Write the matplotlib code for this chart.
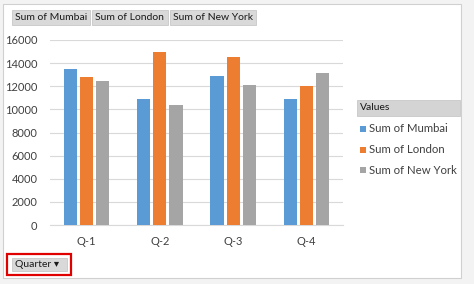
import matplotlib.pyplot as plt
import numpy as np
from matplotlib.patches import Rectangle

quarters = ["Q-1", "Q-2", "Q-3", "Q-4"]
series = ["Sum of Mumbai", "Sum of London", "Sum of New York"]
mumbai = [13500, 10900, 12900, 10900]
london = [12800, 15000, 14500, 12000]
new_york = [12450, 10400, 12100, 13150]
colors = ["#5B9BD5", "#ED7D31", "#A5A5A5"]

plt.rcParams['font.family'] = ['Lato', 'DejaVu Sans']
txt = "#404040"

W, H = 474, 284
fig = plt.figure(figsize=(W / 100, H / 100), dpi=100)
fig.patch.set_facecolor("#f3f3f3")

# chart area (behind the axes)
fig.add_artist(Rectangle((3 / W, 6 / H), 458 / W, 274 / H, transform=fig.transFigure,
                         facecolor="white", edgecolor="#d0d0d0", lw=0.8, zorder=-10))

ax = fig.add_axes([50 / W, 1 - 225 / H, 293 / W, 185 / H])
ax.set_zorder(5)
ax.patch.set_alpha(0)
x = np.arange(len(quarters))
bw = 0.178
step = 0.22
for i, (vals, c) in enumerate(zip([mumbai, london, new_york], colors)):
    ax.bar(x + (i - 1) * step, vals, width=bw, color=c, zorder=3)

ax.set_xlim(-0.5, 3.5)
ax.set_ylim(0, 16000)
ax.set_yticks(range(0, 16001, 2000))
ax.set_xticks(x)
ax.set_xticklabels(quarters)
ax.grid(axis="y", color="#d9d9d9", lw=0.8, zorder=0)
for s in ["top", "right", "left"]:
    ax.spines[s].set_visible(False)
ax.spines["bottom"].set_color("#d9d9d9")
ax.tick_params(length=0, labelsize=8, labelcolor=txt)
ax.tick_params(axis="x", pad=8)
ax.tick_params(axis="y", pad=9)


def button(x0, y0, w, h, label, fc="#d9d9d9", fs=7.5):
    fig.add_artist(Rectangle((x0 / W, 1 - (y0 + h) / H), w / W, h / H, transform=fig.transFigure,
                             facecolor=fc, edgecolor="#c8c8c8", lw=0.6))
    fig.text((x0 + 3) / W, 1 - (y0 + h / 2) / H, label, fontsize=fs, color="#1a1a1a",
             va="center", ha="left")


# field buttons at top
button(12, 10, 78, 15, "Sum of Mumbai")
button(92, 10, 76, 15, "Sum of London")
button(170, 10, 86, 15, "Sum of New York")

# legend
button(357, 100, 103, 16, "Values", fc="#d4d4d4")
for i, (name, c) in enumerate(zip(series, colors)):
    yy = 129 + i * 20.5
    fig.add_artist(Rectangle((360 / W, 1 - (yy + 3) / H), 6 / W, 6 / H, transform=fig.transFigure,
                             facecolor=c, edgecolor="none"))
    fig.text(369 / W, 1 - yy / H, name, fontsize=8.2, color=txt, va="center", ha="left")

# quarter button with red highlight
fig.add_artist(Rectangle((7 / W, 1 - 275 / H), 64 / W, 21 / H, transform=fig.transFigure,
                         facecolor="none", edgecolor="#e00000", lw=1.6))
button(12, 258, 55, 13, "Quarter \u25be")

fig.savefig("out.png", dpi=100, facecolor=fig.get_facecolor())
